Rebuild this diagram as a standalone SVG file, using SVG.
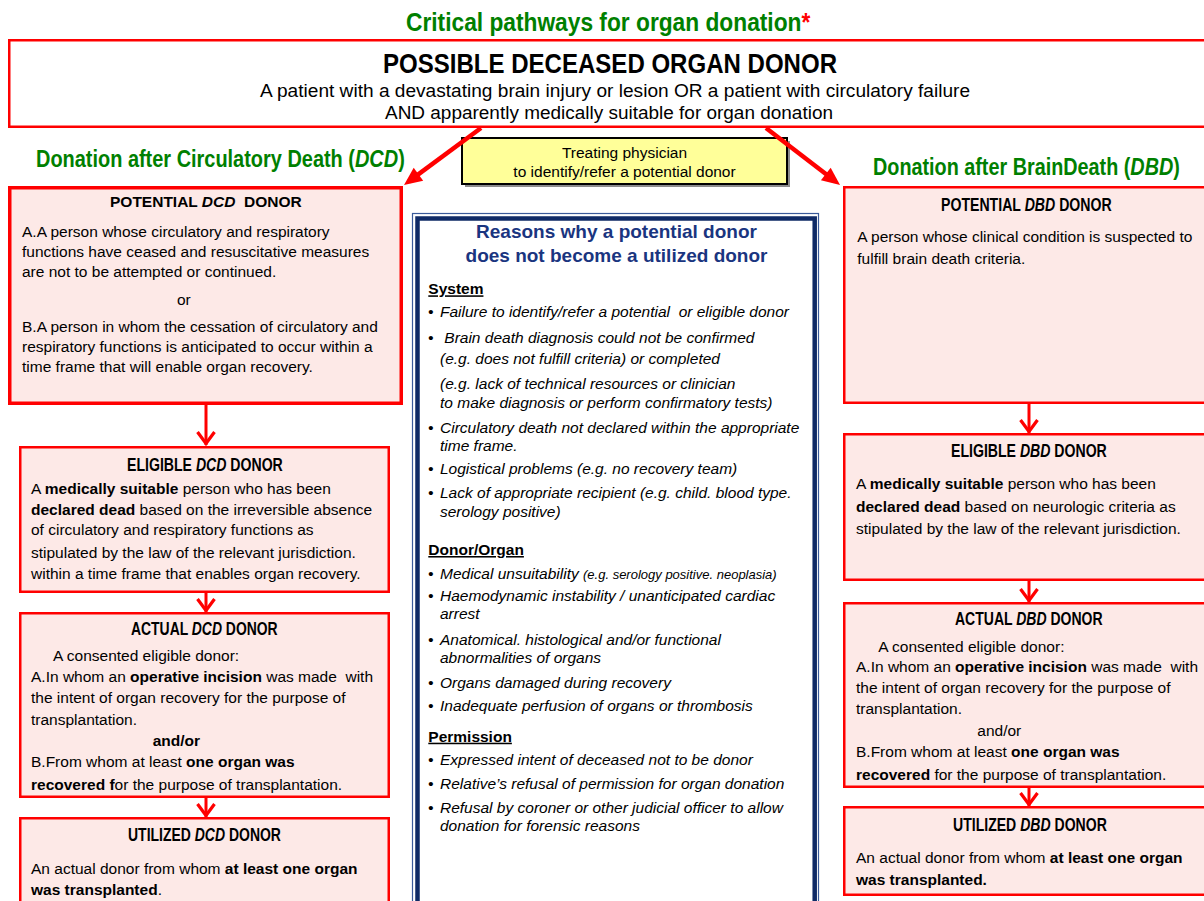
<svg xmlns="http://www.w3.org/2000/svg" width="1204" height="901" viewBox="0 0 1204 901">
<defs>
<style>
text{font-family:"Liberation Sans",Arial,Helvetica,sans-serif;fill:#000;}
.t{font-size:15.5px;}
.h{font-size:17.5px;font-weight:bold;}
.g{fill:#008000;font-weight:bold;}
.box{fill:#FDE9E7;stroke:#FF0000;stroke-width:2.5;}
.it{font-size:15.5px;font-style:italic;}
.sec{font-size:15.5px;font-weight:bold;text-decoration:underline;}
.conn{stroke:#FF0000;fill:none;}
.v{stroke-width:3;}
.d{stroke-width:4.5;}
.b{font-weight:bold;}
.i{font-style:italic;}
.nav{fill:#1A3580;font-weight:bold;font-size:19px;}
</style>
<marker id="chev" markerUnits="userSpaceOnUse" viewBox="-16 -11 18 22" refX="0" refY="0" markerWidth="18" markerHeight="22" orient="auto" overflow="visible">
<path d="M-13,-8.5 L-1.5,0 L-13,8.5" fill="none" stroke="#FF0000" stroke-width="3.2"/>
</marker>
<marker id="head" markerUnits="userSpaceOnUse" viewBox="-14 -10 22 20" refX="0" refY="0" markerWidth="22" markerHeight="20" orient="auto" overflow="visible">
<path d="M-12,-8 L6,0 L-12,8 Z" fill="#FF0000"/>
</marker>
</defs>
<rect width="1204" height="901" fill="#FFFFFF"/>

<text id="title" transform="translate(406,31) scale(0.892,1)" class="g" font-size="25.5">Critical pathways for organ donation<tspan fill="#FF0000">*</tspan></text>

<g id="possible">
<rect x="9.25" y="40.25" width="1205" height="86.5" fill="#FFFFFF" stroke="#FF0000" stroke-width="2.5"/>
<text x="383" y="73" font-size="28.5" font-weight="bold" textLength="454" lengthAdjust="spacingAndGlyphs">POSSIBLE DECEASED ORGAN DONOR</text>
<text x="260" y="97" font-size="17.5" textLength="710" lengthAdjust="spacingAndGlyphs">A patient with a devastating brain injury or lesion OR a patient with circulatory failure</text>
<text x="385" y="119" font-size="17.5" textLength="448" lengthAdjust="spacingAndGlyphs">AND apparently medically suitable for organ donation</text>
</g>

<text id="dcd-heading" transform="translate(36,167) scale(0.867,1)" class="g" font-size="23">Donation after Circulatory Death (<tspan class="i">DCD</tspan>)</text>
<text id="dbd-heading" transform="translate(873,175) scale(0.861,1)" class="g" font-size="23">Donation after BrainDeath (<tspan class="i">DBD</tspan>)</text>

<g id="physician">
<rect x="465" y="141" width="325" height="46" fill="#8C8C8C"/>
<rect x="462" y="138" width="325" height="46" fill="#FFFF99" stroke="#000" stroke-width="2"/>
<text class="t" x="624.5" y="158.3" text-anchor="middle">Treating physician</text>
<text class="t" x="624.5" y="177.3" text-anchor="middle">to identify/refer a potential donor</text>
</g>

<g id="connectors">
<line class="conn d" x1="481" y1="128" x2="408.8" y2="181.4" marker-end="url(#head)"/>
<line class="conn d" x1="766" y1="128" x2="835.3" y2="181.3" marker-end="url(#head)"/>
<line class="conn v" x1="206" y1="405" x2="206" y2="445" marker-end="url(#chev)"/>
<line class="conn v" x1="206" y1="593" x2="206" y2="612" marker-end="url(#chev)"/>
<line class="conn v" x1="206" y1="798" x2="206" y2="817" marker-end="url(#chev)"/>
<line class="conn v" x1="1029" y1="404" x2="1029" y2="433" marker-end="url(#chev)"/>
<line class="conn v" x1="1029" y1="581" x2="1029" y2="602" marker-end="url(#chev)"/>
<line class="conn v" x1="1029" y1="788" x2="1029" y2="806" marker-end="url(#chev)"/>
</g>

<g id="potential-dcd">
<rect class="box" x="9.75" y="187.75" width="391.5" height="215.5" style="stroke-width:3.5"/>
<text x="110" y="207" font-size="15.5" font-weight="bold" xml:space="preserve">POTENTIAL <tspan class="i">DCD</tspan>  DONOR</text>
<text class="t" x="22" y="236.7">A.A person whose circulatory and respiratory</text>
<text class="t" x="22" y="256.7">functions have ceased and resuscitative measures</text>
<text class="t" x="22" y="276.7">are not to be attempted or continued.</text>
<text class="t" x="177" y="305">or</text>
<text class="t" x="22" y="331.7">B.A person in whom the cessation of circulatory and</text>
<text class="t" x="22" y="351.7">respiratory functions is anticipated to occur within a</text>
<text class="t" x="22" y="372.3">time frame that will enable organ recovery.</text>
</g>

<g id="eligible-dcd">
<rect class="box" x="20.25" y="447.25" width="368.5" height="144.5"/>
<text class="h" transform="translate(127,470.5) scale(0.806,1)">ELIGIBLE <tspan class="i">DCD</tspan> DONOR</text>
<text class="t" x="31" y="494">A <tspan class="b">medically suitable</tspan> person who has been</text>
<text class="t" x="31" y="515"><tspan class="b">declared dead</tspan> based on the irreversible absence</text>
<text class="t" x="31" y="535">of circulatory and respiratory functions as</text>
<text class="t" x="31" y="558">stipulated by the law of the relevant jurisdiction.</text>
<text class="t" x="31" y="579">within a time frame that enables organ recovery.</text>
</g>

<g id="actual-dcd">
<rect class="box" x="20.25" y="613.25" width="368.5" height="183.5"/>
<text class="h" transform="translate(131,635) scale(0.796,1)">ACTUAL <tspan class="i">DCD</tspan> DONOR</text>
<text class="t" x="53" y="660.7">A consented eligible donor:</text>
<text class="t" x="31" y="682" xml:space="preserve">A.In whom an <tspan class="b">operative incision</tspan> was made  with</text>
<text class="t" x="31" y="703">the intent of organ recovery for the purpose of</text>
<text class="t" x="31" y="725">transplantation.</text>
<text class="t b" x="152.7" y="745.7">and/or</text>
<text class="t" x="31" y="767">B.From whom at least <tspan class="b">one organ was</tspan></text>
<text class="t" x="31" y="790"><tspan class="b">recovered f</tspan>or the purpose of transplantation.</text>
</g>

<g id="utilized-dcd">
<rect class="box" x="20.25" y="818.25" width="368.5" height="100"/>
<text class="h" transform="translate(128,841) scale(0.799,1)">UTILIZED <tspan class="i">DCD</tspan> DONOR</text>
<text class="t" x="31" y="874">An actual donor from whom <tspan class="b">at least one organ</tspan></text>
<text class="t" x="31" y="895"><tspan class="b">was transplanted</tspan>.</text>
</g>

<g id="potential-dbd">
<rect class="box" x="844.25" y="187.25" width="400" height="215.5"/>
<text class="h" transform="translate(941,210.5) scale(0.807,1)">POTENTIAL <tspan class="i">DBD</tspan> DONOR</text>
<text class="t" x="857.3" y="241.7">A person whose clinical condition is suspected to</text>
<text class="t" x="857.3" y="264.3">fulfill brain death criteria.</text>
</g>

<g id="eligible-dbd">
<rect class="box" x="844.25" y="434.25" width="400" height="145.5"/>
<text class="h" transform="translate(951,457) scale(0.806,1)">ELIGIBLE <tspan class="i">DBD</tspan> DONOR</text>
<text class="t" x="856" y="489">A <tspan class="b">medically suitable</tspan> person who has been</text>
<text class="t" x="856" y="511.7"><tspan class="b">declared dead</tspan> based on neurologic criteria as</text>
<text class="t" x="856" y="534.3">stipulated by the law of the relevant jurisdiction.</text>
</g>

<g id="actual-dbd">
<rect class="box" x="844.25" y="603.25" width="400" height="183.5"/>
<text class="h" transform="translate(955,625) scale(0.801,1)">ACTUAL <tspan class="i">DBD</tspan> DONOR</text>
<text class="t" x="878.3" y="651.7">A consented eligible donor:</text>
<text class="t" x="856" y="672.3" xml:space="preserve">A.In whom an <tspan class="b">operative incision</tspan> was made  with</text>
<text class="t" x="856" y="693.3">the intent of organ recovery for the purpose of</text>
<text class="t" x="856" y="714.3">transplantation.</text>
<text class="t" x="977.3" y="736">and/or</text>
<text class="t" x="856" y="756.7">B.From whom at least <tspan class="b">one organ was</tspan></text>
<text class="t" x="856" y="780"><tspan class="b">recovered</tspan> for the purpose of transplantation.</text>
</g>

<g id="utilized-dbd">
<rect class="box" x="844.25" y="807.25" width="400" height="87.5"/>
<text class="h" transform="translate(953,831) scale(0.804,1)">UTILIZED <tspan class="i">DBD</tspan> DONOR</text>
<text class="t" x="856" y="863.3">An actual donor from whom <tspan class="b">at least one organ</tspan></text>
<text class="t b" x="856" y="885">was transplanted.</text>
</g>

<g id="reasons">
<rect x="412.5" y="213.5" width="406" height="720" fill="#FFFFFF" stroke="#3A5A9A" stroke-width="1.2"/>
<rect x="417.5" y="218.5" width="397.2" height="720" fill="#FFFFFF" stroke="#0F2A66" stroke-width="4.5"/>
<text class="nav" x="616.5" y="238" text-anchor="middle">Reasons why a potential donor</text>
<text class="nav" x="616.5" y="261.7" text-anchor="middle">does not become a utilized donor</text>
<text class="sec" x="428.3" y="294.3">System</text>
<text class="it" x="428" y="317.3">•</text><text class="it" x="440" y="317.3" xml:space="preserve">Failure to identify/refer a potential  or eligible donor</text>
<text class="it" x="428" y="342.7">•</text><text class="it" x="444.3" y="342.7">Brain death diagnosis could not be confirmed</text>
<text class="it" x="440" y="364.3">(e.g. does not fulfill criteria) or completed</text>
<text class="it" x="440" y="389.3">(e.g. lack of technical resources or clinician</text>
<text class="it" x="440" y="408.3">to make diagnosis or perform confirmatory tests)</text>
<text class="it" x="428" y="432.7">•</text><text class="it" x="440" y="432.7">Circulatory death not declared within the appropriate</text>
<text class="it" x="440" y="450.7">time frame.</text>
<text class="it" x="428" y="474">•</text><text class="it" x="440" y="474">Logistical problems (e.g. no recovery team)</text>
<text class="it" x="428" y="498.3">•</text><text class="it" x="440" y="498.3">Lack of appropriate recipient (e.g. child. blood type.</text>
<text class="it" x="440" y="517.3">serology positive)</text>
<text class="sec" x="428.3" y="555">Donor/Organ</text>
<text class="it" x="428" y="579.3">•</text><text class="it" x="440" y="579.3">Medical unsuitability <tspan font-size="13">(e.g. serology positive. neoplasia)</tspan></text>
<text class="it" x="428" y="600.7">•</text><text class="it" x="440" y="600.7">Haemodynamic instability / unanticipated cardiac</text>
<text class="it" x="440" y="619.3">arrest</text>
<text class="it" x="428" y="645">•</text><text class="it" x="440" y="645">Anatomical. histological and/or functional</text>
<text class="it" x="440" y="663.3">abnormalities of organs</text>
<text class="it" x="428" y="687.7">•</text><text class="it" x="440" y="687.7">Organs damaged during recovery</text>
<text class="it" x="428" y="710.7">•</text><text class="it" x="440" y="710.7">Inadequate perfusion of organs or thrombosis</text>
<text class="sec" x="428.3" y="741.7">Permission</text>
<text class="it" x="428" y="765">•</text><text class="it" x="440" y="765">Expressed intent of deceased not to be donor</text>
<text class="it" x="428" y="789.3">•</text><text class="it" x="440" y="789.3">Relative’s refusal of permission for organ donation</text>
<text class="it" x="428" y="812.5">•</text><text class="it" x="440" y="812.5">Refusal by coroner or other judicial officer to allow</text>
<text class="it" x="440" y="831">donation for forensic reasons</text>
</g>
</svg>
